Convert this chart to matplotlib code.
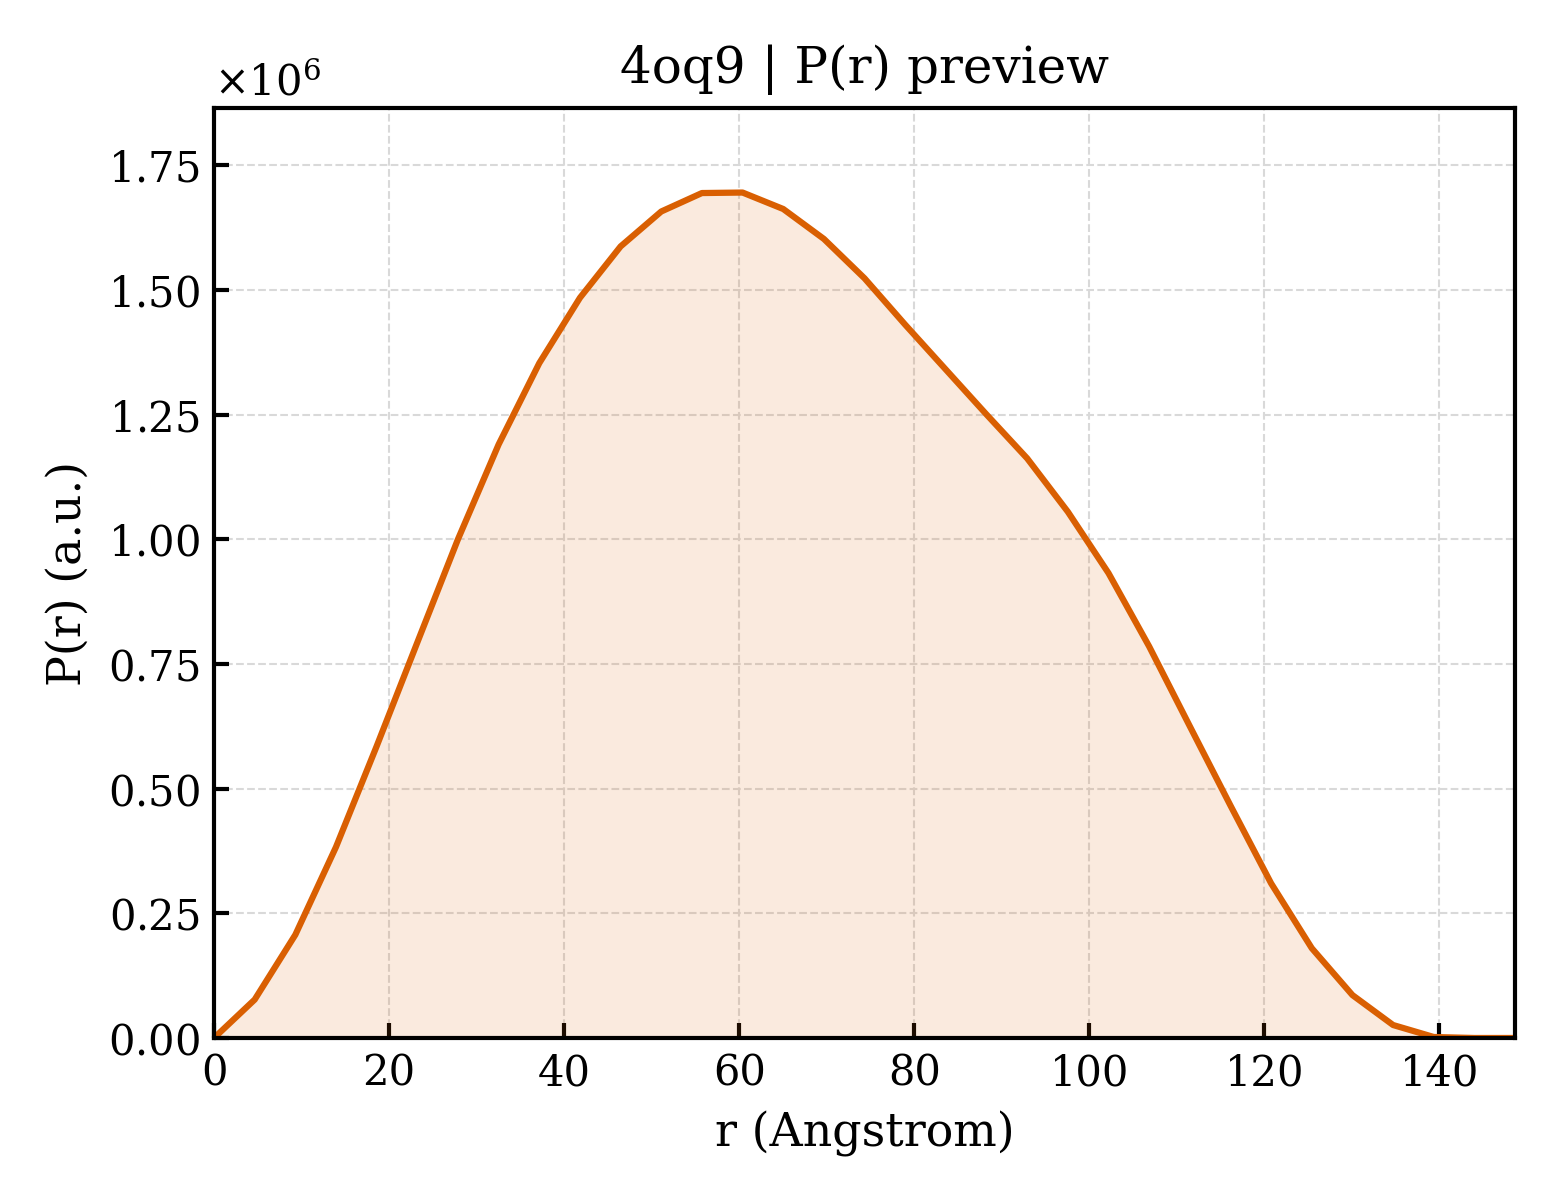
import matplotlib
matplotlib.use("Agg")
import matplotlib.pyplot as plt
import numpy as np

# Data
r_step = 4.645
n_points = 33
r_values = [round(k * r_step, 3) for k in range(n_points)]
p_values_1e6 = [0.000, 0.077, 0.207, 0.383, 0.585, 0.793, 1.000, 1.190, 1.353,
                1.484, 1.587, 1.657, 1.694, 1.695, 1.662, 1.602, 1.523, 1.430,
                1.340, 1.250, 1.162, 1.055, 0.932, 0.785, 0.625, 0.466, 0.310,
                0.180, 0.086, 0.026, 0.002, 0.000, 0.000]
title = "4oq9 | P(r) preview"
xlabel = "r (Angstrom)"
ylabel = "P(r) (a.u.)"

r = np.array(r_values)
p = np.array(p_values_1e6) * 1e6

plt.rcParams['font.family'] = ['DejaVu Serif']
plt.rcParams['mathtext.fontset'] = 'dejavuserif'

fig = plt.figure(figsize=(5.2, 4.0), dpi=300)
ax = fig.add_axes([0.1372, 0.135, 0.9712 - 0.1372, 0.91 - 0.135])

color = "#D95F02"
ax.fill_between(r, 0, p, color=color, alpha=0.13, linewidth=0)
ax.plot(r, p, color=color, linewidth=1.5)

ax.set_xlim(0, r.max())
ax.set_ylim(0, p.max() * 1.1)
ax.set_xticks([0, 20, 40, 60, 80, 100, 120, 140])
ax.set_yticks(np.arange(0, 1.76e6, 0.25e6))

ax.grid(True, linestyle='--', linewidth=0.5, color='#d9d9d9')
ax.set_axisbelow(True)
ax.tick_params(direction='in', length=3.5, width=1.0, labelsize=10,
               top=False, right=False)
for s in ax.spines.values():
    s.set_linewidth(1.0)

ax.ticklabel_format(axis='y', style='sci', scilimits=(0, 0), useMathText=True)
ax.yaxis.get_offset_text().set_fontsize(10)

ax.set_xlabel(xlabel, fontsize=11, labelpad=4)
ax.set_ylabel(ylabel, fontsize=11, labelpad=4)
ax.set_title(title, fontsize=12, pad=6)

fig.savefig("out.png", dpi=300)
